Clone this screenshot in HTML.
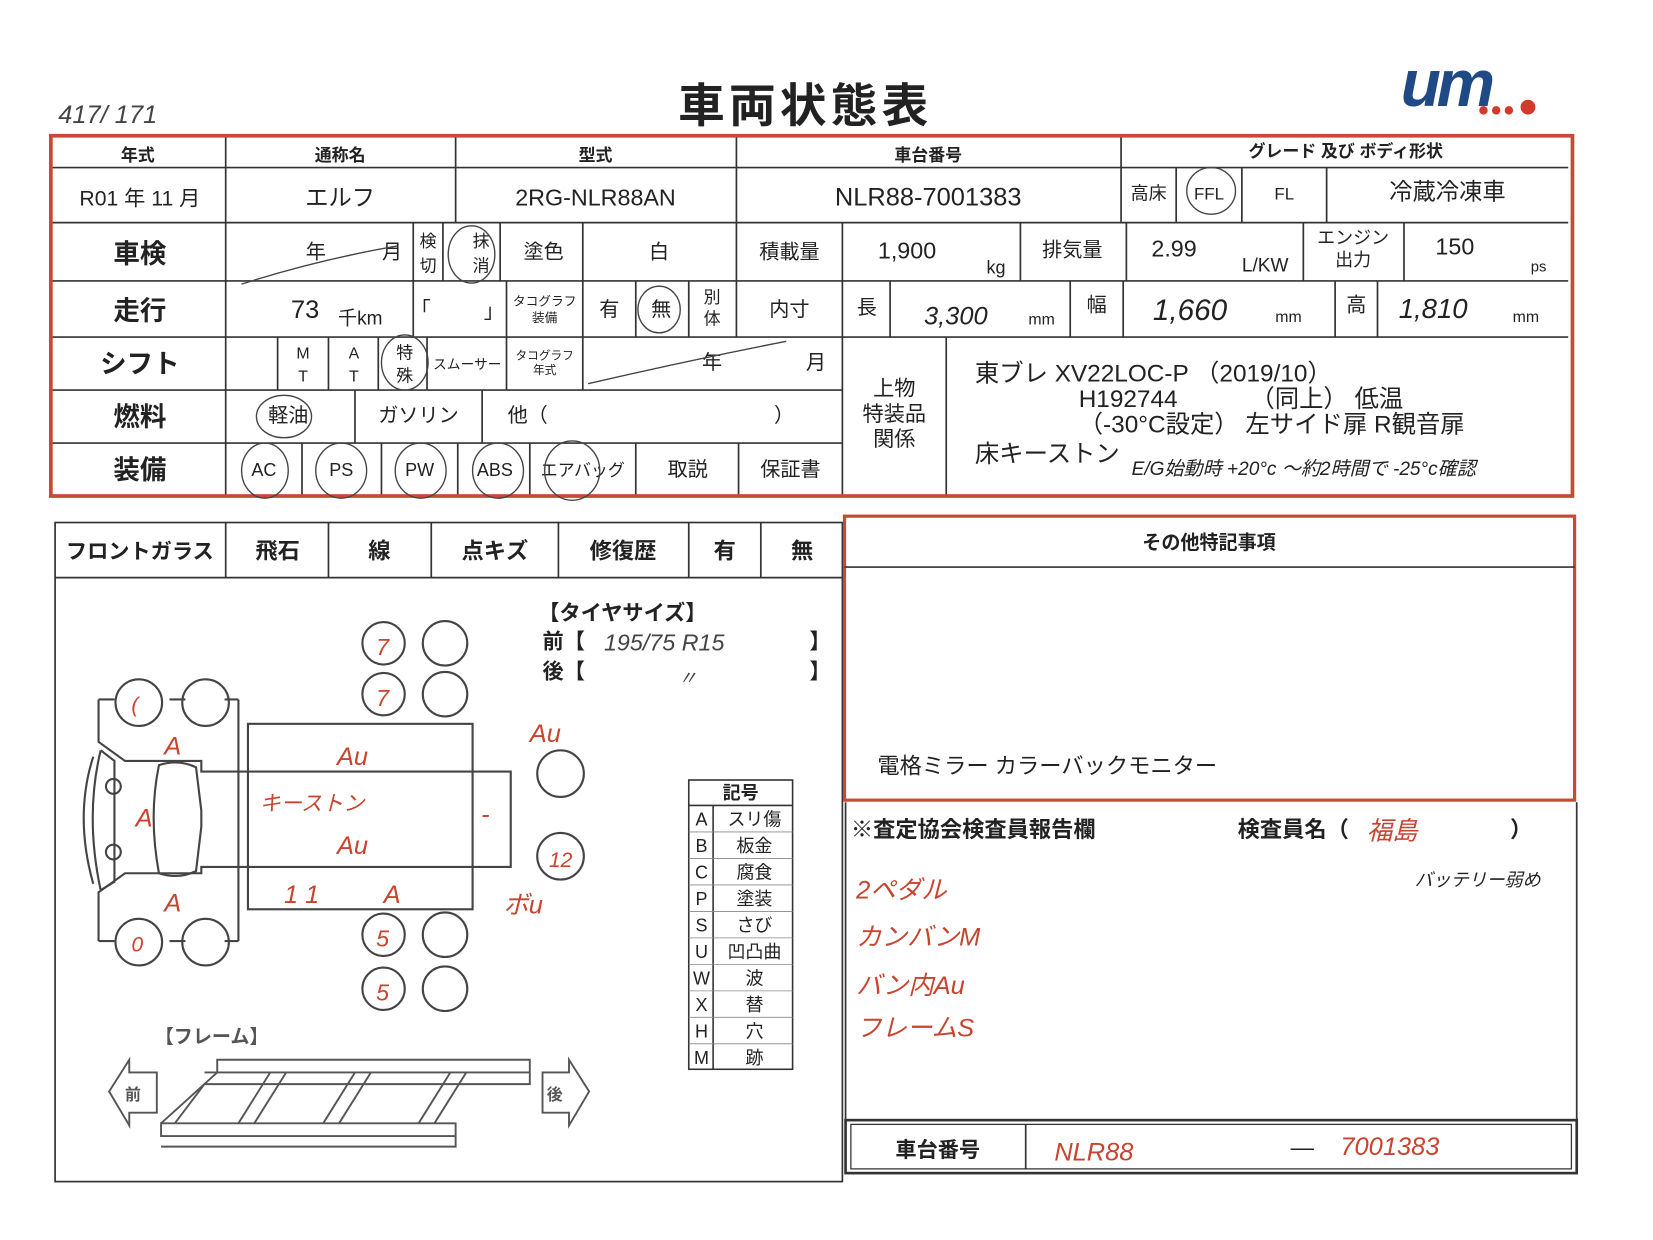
<!DOCTYPE html>
<html><head><meta charset="utf-8"><style>
html,body{margin:0;padding:0;background:#fff;}
svg{display:block;}
text{font-family:"Liberation Sans","Noto Sans CJK JP",sans-serif;fill:#222;}
.b{font-weight:bold;}
.h{font-family:"Liberation Sans","Noto Sans CJK JP",sans-serif;fill:#444;font-style:italic;}
</style></head><body>
<svg width="1653" height="1240" viewBox="0 0 1560 1170" xmlns="http://www.w3.org/2000/svg">
<rect width="1560" height="1170" fill="#fff"/>
<text x="55" y="116" font-size="24" class="h">417/ 171</text>
<text x="760" y="115" font-size="44" class="b" text-anchor="middle" letter-spacing="4">車両状態表</text>
<g>
<text x="1322" y="100" font-size="62" font-weight="bold" font-style="italic" style="fill:#1f4a85" letter-spacing="-4">um</text>
<circle cx="1400" cy="104" r="4" fill="#d03b2c"/><circle cx="1412" cy="104" r="4" fill="#d03b2c"/><circle cx="1424" cy="104" r="4" fill="#d03b2c"/><circle cx="1442" cy="101" r="7" fill="#d03b2c"/>
</g>

<g stroke="#333" stroke-width="1.6" fill="none">
<line x1="48" y1="158" x2="1480" y2="158"/>
<line x1="48" y1="210" x2="1480" y2="210"/>
<line x1="48" y1="265" x2="1480" y2="265"/>
<line x1="48" y1="318" x2="1480" y2="318"/>
<line x1="48" y1="368" x2="795" y2="368"/>
<line x1="48" y1="418" x2="795" y2="418"/>
<line x1="213" y1="128" x2="213" y2="468"/>
<line x1="430" y1="128" x2="430" y2="210"/>
<line x1="695" y1="128" x2="695" y2="318"/>
<line x1="1058" y1="128" x2="1058" y2="210"/>
<line x1="1110" y1="158" x2="1110" y2="210"/><line x1="1172" y1="158" x2="1172" y2="210"/><line x1="1252" y1="158" x2="1252" y2="210"/>
<path d="M390 210V265M418 210V265M472 210V265M550 210V265M795 210V468M963 210V265M1063 210V265M1230 210V265M1325 210V265"/>
<path d="M390 265V318M478 265V318M550 265V318M600 265V318M650 265V318M840 265V318M1010 265V318M1060 265V318M1260 265V318M1300 265V318"/>
<path d="M262 318V368M310 318V368M357 318V368M403 318V368M478 318V368M550 318V368"/>
<path d="M335 368V418M455 368V418"/>
<path d="M285 418V468M360 418V468M432 418V468M500 418V468M600 418V468M697 418V468M893 318V468"/>
</g>
<rect x="48" y="128" width="1436" height="340" fill="none" stroke="#c84a35" stroke-width="3.5"/>

<g font-size="16" text-anchor="middle" class="b">
<text x="130" y="152">年式</text><text x="321" y="152">通称名</text><text x="562" y="152">型式</text><text x="876" y="152">車台番号</text><text x="1270" y="148">グレード 及び ボディ形状</text>
</g>
<g font-size="22" text-anchor="middle">
<text x="132" y="194" font-size="20">R01 年 11 月</text>
<text x="321" y="194">エルフ</text>
<text x="562" y="194">2RG-NLR88AN</text>
<text x="876" y="194" font-size="24">NLR88-7001383</text>
<text x="1084" y="188" font-size="17">高床</text>
<text x="1141" y="188" font-size="16">FFL</text>
<text x="1212" y="188" font-size="16">FL</text>
<text x="1366" y="188">冷蔵冷凍車</text>
</g>
<g font-size="25" class="b" text-anchor="middle">
<text x="132" y="248">車検</text><text x="132" y="302">走行</text><text x="132" y="352">シフト</text><text x="132" y="402">燃料</text><text x="132" y="452">装備</text>
</g>
<g font-size="19" text-anchor="middle">
<text x="298" y="244">年</text><text x="370" y="244">月</text>
<text x="404" y="233" font-size="16">検</text><text x="404" y="256" font-size="16">切</text>
<text x="454" y="233" font-size="16">抹</text><text x="454" y="256" font-size="16">消</text>
<text x="513" y="244">塗色</text><text x="622" y="244">白</text>
<text x="745" y="244">積載量</text>
<text x="856" y="244" font-size="22">1,900</text><text x="940" y="258" font-size="17">kg</text>
<text x="1012" y="242">排気量</text>
<text x="1108" y="242" font-size="22">2.99</text><text x="1194" y="256" font-size="18">L/KW</text>
<text x="1277" y="230" font-size="17">エンジン</text><text x="1277" y="251" font-size="17">出力</text>
<text x="1373" y="240" font-size="22">150</text><text x="1452" y="256" font-size="14">ps</text>
<text x="288" y="300" font-size="24">73</text><text x="340" y="306" font-size="18">千km</text>
<text x="397" y="298">「</text><text x="466" y="300">」</text>
<text x="514" y="288" font-size="12">タコグラフ</text><text x="514" y="304" font-size="12">装備</text>
<text x="575" y="298">有</text><text x="624" y="298">無</text>
<text x="672" y="286" font-size="16">別</text><text x="672" y="306" font-size="16">体</text>
<text x="745" y="298">内寸</text>
<text x="818" y="296">長</text><text x="983" y="306" font-size="15">mm</text>
<text x="1035" y="294">幅</text><text x="1216" y="304" font-size="15">mm</text>
<text x="1280" y="294">高</text><text x="1440" y="304" font-size="15">mm</text>
<text x="286" y="338" font-size="15">M</text><text x="286" y="360" font-size="15">T</text>
<text x="334" y="338" font-size="15">A</text><text x="334" y="360" font-size="15">T</text>
<text x="382" y="338" font-size="16">特</text><text x="382" y="360" font-size="16">殊</text>
<text x="441" y="348" font-size="13">スムーサー</text>
<text x="514" y="339" font-size="11">タコグラフ</text><text x="514" y="353" font-size="11">年式</text>
<text x="672" y="348">年</text><text x="770" y="348">月</text>
<text x="272" y="398">軽油</text><text x="395" y="398">ガソリン</text><text x="498" y="398">他（</text><text x="740" y="398">）</text>
<text x="249" y="449" font-size="17">AC</text><text x="322" y="449" font-size="17">PS</text><text x="396" y="449" font-size="17">PW</text><text x="467" y="449" font-size="17">ABS</text><text x="550" y="449" font-size="16">エアバッグ</text>
<text x="649" y="449">取説</text><text x="746" y="449">保証書</text>
<text x="844" y="373" font-size="20">上物</text><text x="844" y="397" font-size="20">特装品</text><text x="844" y="421" font-size="20">関係</text>
</g>
<g font-size="23">
<text x="920" y="360">東ブレ  XV22LOC-P （2019/10）</text>
<text x="1018" y="384">H192744</text><text x="1180" y="384">（同上）  低温</text>
<text x="1018" y="408">（-30°C設定）  左サイド扉  R観音扉</text>
<text x="920" y="436">床キーストン</text>
</g>
<g class="h" font-size="21">
<text x="872" y="306" font-size="24">3,300</text>
<text x="1088" y="302" font-size="28">1,660</text>
<text x="1320" y="300" font-size="26">1,810</text>
<text x="1068" y="448" font-size="18">E/G始動時 +20°c ～約2時間で -25°c確認</text>
</g>
<g stroke="#444" stroke-width="1.3" fill="none">
<ellipse cx="445" cy="240" rx="22" ry="27"/>
<ellipse cx="1143" cy="180" rx="23" ry="22"/>
<ellipse cx="622" cy="292" rx="20" ry="22"/>
<ellipse cx="382" cy="342" rx="22" ry="26"/>
<ellipse cx="268" cy="393" rx="26" ry="20"/>
<ellipse cx="250" cy="444" rx="22" ry="26"/>
<ellipse cx="322" cy="444" rx="24" ry="26"/>
<ellipse cx="397" cy="444" rx="24" ry="26"/>
<ellipse cx="470" cy="444" rx="24" ry="26"/>
<ellipse cx="540" cy="444" rx="26" ry="28"/>
<path d="M228 268 Q300 245 375 232"/>
<path d="M555 362 Q650 340 742 322"/>
</g>

<g stroke="#333" stroke-width="1.6" fill="none">
<rect x="52" y="493" width="743" height="622"/>
<line x1="52" y1="545" x2="795" y2="545"/>
<path d="M213 493V545M310 493V545M407 493V545M527 493V545M650 493V545M718 493V545"/>
</g>
<g font-size="21" class="b" text-anchor="middle">
<text x="132" y="527" font-size="20">フロントガラス</text><text x="262" y="527">飛石</text><text x="358" y="527">線</text><text x="467" y="527">点キズ</text><text x="588" y="527">修復歴</text><text x="684" y="527">有</text><text x="757" y="527">無</text>
</g>
<g font-size="20" class="b">
<text x="508" y="585">【タイヤサイズ】</text>
<text x="512" y="612">前【</text><text x="764" y="612">】</text>
<text x="512" y="640">後【</text><text x="764" y="640">】</text>
</g>
<text x="570" y="614" class="h" font-size="22">195/75 R15</text>
<text x="640" y="646" class="h" font-size="18">〃</text>

<g stroke="#444" stroke-width="2" fill="none">
<circle cx="362" cy="607" r="20"/><circle cx="420" cy="607" r="21"/>
<circle cx="362" cy="655" r="20"/><circle cx="420" cy="655" r="21"/>
<circle cx="362" cy="882" r="20"/><circle cx="420" cy="882" r="21"/>
<circle cx="362" cy="933" r="20"/><circle cx="420" cy="933" r="21"/>
<circle cx="529" cy="730" r="22"/><circle cx="529" cy="808" r="22"/>
<circle cx="131" cy="663" r="22"/><circle cx="194" cy="663" r="22"/>
<circle cx="131" cy="889" r="22"/><circle cx="194" cy="889" r="22"/>
<path d="M93 660V700L118 718H190V728H482V818H190V824H118L93 842V888"/>
<path d="M225 660V888"/>
<path d="M93 660H108M160 660H175M212 660H225M93 888H108M160 888H175M212 888H225"/>
<path d="M88 714Q70 770 88 834M95 708Q80 770 95 840M95 708L108 718V832L95 840"/>
<circle cx="107" cy="742" r="7"/><circle cx="107" cy="804" r="7"/>
<path d="M150 722Q168 716 185 724L190 765V780L185 822Q168 830 150 824Q140 770 150 722Z"/>
<rect x="234" y="683" width="212" height="175"/>
</g>
<g class="h" font-size="24">
<text x="124" y="672" font-size="20" style="fill:#c8442e">(</text>
<text x="155" y="712" style="fill:#c8442e">A</text>
<text x="128" y="780" style="fill:#c8442e">A</text>
<text x="155" y="860" style="fill:#c8442e">A</text>
<text x="124" y="898" font-size="20" style="fill:#c8442e">0</text>
<text x="318" y="722" style="fill:#c8442e">Au</text>
<text x="245" y="765" font-size="20" style="fill:#c8442e">キーストン</text>
<text x="318" y="806" style="fill:#c8442e">Au</text>
<text x="268" y="852" style="fill:#c8442e">1 1</text>
<text x="362" y="852" style="fill:#c8442e">A</text>
<text x="500" y="700" style="fill:#c8442e">Au</text>
<text x="475" y="862" style="fill:#c8442e">ボu</text>
<text x="454" y="776" style="fill:#c8442e">-</text>
<text x="355" y="618" font-size="22" style="fill:#c8442e">7</text>
<text x="355" y="666" font-size="22" style="fill:#c8442e">7</text>
<text x="355" y="893" font-size="22" style="fill:#c8442e">5</text>
<text x="355" y="944" font-size="22" style="fill:#c8442e">5</text>
<text x="518" y="818" font-size="20" style="fill:#c8442e">12</text>
</g>
<g stroke="#333" stroke-width="1.5" fill="none">
<rect x="650" y="736" width="98" height="273"/>
<line x1="650" y1="760" x2="748" y2="760"/>
<line x1="673" y1="760" x2="673" y2="1009"/>
</g>
<g stroke="#888" stroke-width="0.8">
<path d="M650 785H748M650 810H748M650 835H748M650 860H748M650 885H748M650 910H748M650 935H748M650 960H748M650 985H748"/>
</g>
<g font-size="17" text-anchor="middle">
<text x="699" y="754" class="b">記号</text>
<text x="662" y="779">A</text><text x="712" y="779">スリ傷</text>
<text x="662" y="804">B</text><text x="712" y="804">板金</text>
<text x="662" y="829">C</text><text x="712" y="829">腐食</text>
<text x="662" y="854">P</text><text x="712" y="854">塗装</text>
<text x="662" y="879">S</text><text x="712" y="879">さび</text>
<text x="662" y="904">U</text><text x="712" y="904">凹凸曲</text>
<text x="662" y="929">W</text><text x="712" y="929">波</text>
<text x="662" y="954">X</text><text x="712" y="954">替</text>
<text x="662" y="979">H</text><text x="712" y="979">穴</text>
<text x="662" y="1004">M</text><text x="712" y="1004">跡</text>
</g>
<text x="146" y="984" font-size="18" class="b" style="fill:#555">【フレーム】</text>
<g stroke="#555" stroke-width="1.8" fill="none">
<path d="M103 1030L122 1000V1012H148V1050H122V1062Z"/>
<path d="M556 1030L537 1000V1012H512V1050H537V1062Z"/>
<path d="M205 1000H500V1012H205ZM193 1012H500V1023H193"/>
<path d="M152 1060H430V1072H152ZM152 1072H430V1082H152"/>
<path d="M205 1012L152 1060M193 1023L165 1060"/>
<path d="M255 1012L225 1060M270 1012L240 1060M335 1012L305 1060M350 1012L320 1060M425 1012L395 1060M440 1012L410 1060"/>
</g>
<text x="118" y="1038" font-size="15" class="b" style="fill:#555">前</text>
<text x="516" y="1038" font-size="15" class="b" style="fill:#555">後</text>

<rect x="797" y="487" width="689" height="268" fill="none" stroke="#c84a35" stroke-width="3"/>
<line x1="797" y1="535" x2="1486" y2="535" stroke="#333" stroke-width="1.5"/>
<text x="1141" y="518" font-size="18" class="b" text-anchor="middle">その他特記事項</text>
<text x="828" y="730" font-size="21">電格ミラー  カラーバックモニター</text>
<g stroke="#333" stroke-width="1.6" fill="none">
<line x1="798" y1="757" x2="798" y2="1060"/>
<line x1="1488" y1="757" x2="1488" y2="1060"/>
<rect x="798" y="1057" width="690" height="50" stroke-width="2.5"/>
<rect x="803" y="1061" width="680" height="42" stroke-width="1.2"/>
<line x1="968" y1="1061" x2="968" y2="1103"/>
</g>
<text x="803" y="790" font-size="21" class="b">※査定協会検査員報告欄</text>
<text x="1168" y="790" font-size="21" class="b">検査員名（</text>
<text x="1425" y="790" font-size="21" class="b">）</text>
<text x="1290" y="792" font-size="24" class="h" style="fill:#c8442e">福島</text>
<g class="h" font-size="24">
<text x="808" y="848" style="fill:#c8442e">2ペダル</text>
<text x="808" y="892" style="fill:#c8442e">カンバンM</text>
<text x="808" y="938" style="fill:#c8442e">バン内Au</text>
<text x="808" y="978" style="fill:#c8442e">フレームS</text>
<text x="1335" y="836" font-size="17">バッテリー弱め</text>
<text x="995" y="1095" font-size="24" style="fill:#c8442e">NLR88</text>
<text x="1265" y="1090" font-size="24" style="fill:#c8442e">7001383</text>
</g>
<text x="885" y="1092" font-size="20" class="b" text-anchor="middle">車台番号</text>
<text x="1218" y="1090" font-size="22">—</text>
</svg>
</body></html>
